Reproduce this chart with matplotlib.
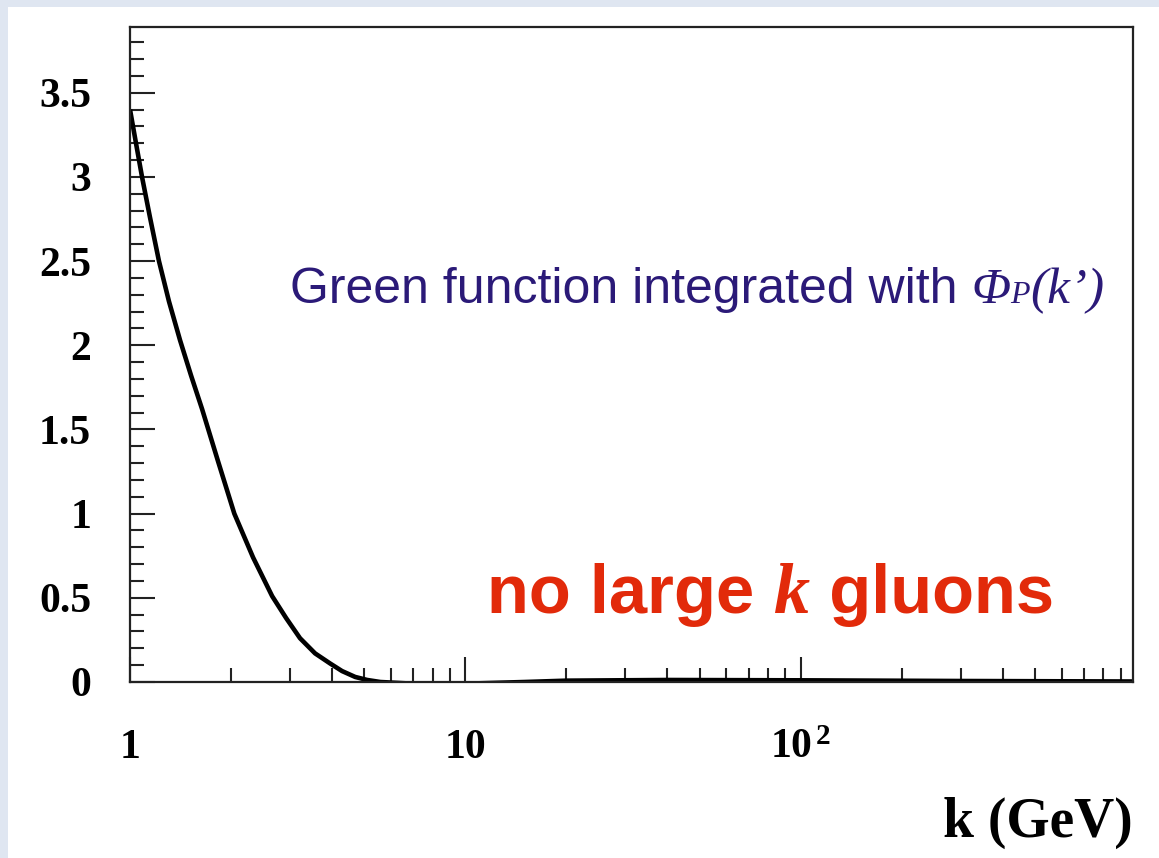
import numpy as np
import matplotlib
matplotlib.use('Agg')
from matplotlib import pyplot as plt
from matplotlib import ticker
from matplotlib.patches import Rectangle
from matplotlib.transforms import IdentityTransform


# Krzywa: k [GeV] i wartosc funkcji Greena
k_vals = [1.000, 1.042, 1.086, 1.147, 1.220, 1.307, 1.410, 1.521, 1.641, 1.831,
          2.047, 2.328, 2.654, 2.921, 3.214, 3.564, 3.952, 4.289, 4.694, 5.10,
          5.58, 7.0, 10.0, 15.0, 20.0, 40.0, 100.0, 300.0, 980.0]
g_vals = [3.40, 3.20, 3.00, 2.76, 2.50, 2.26, 2.03, 1.82, 1.62, 1.31,
          1.00, 0.74, 0.51, 0.38, 0.26, 0.17, 0.11, 0.065, 0.03, 0.012,
          0.0, -0.01, -0.01, 0.0, 0.008, 0.012, 0.010, 0.006, 0.003]

x_major = [1, 10, 100]
x_major_labels = ['1', '10', r'$\mathbf{10}^{\,\mathbf{2}}$']
x_minor = [2, 3, 4, 5, 6, 7, 8, 9,
           20, 30, 40, 50, 60, 70, 80, 90,
           200, 300, 400, 500, 600, 700, 800, 900]
y_major = [0, 0.5, 1, 1.5, 2, 2.5, 3, 3.5]
y_major_labels = ['0', '0.5', '1', '1.5', '2', '2.5', '3', '3.5']

kolor_nieb = '#2b1a78'
kolor_czerw = '#e22a0a'

plt.rcParams['mathtext.fontset'] = 'custom'
plt.rcParams['mathtext.rm'] = 'Liberation Serif'
plt.rcParams['mathtext.it'] = 'Liberation Serif:italic'
plt.rcParams['mathtext.bf'] = 'Liberation Serif:bold'

W, H = 1159, 858
fig = plt.figure( figsize=( W/100, H/100 ), dpi=100, facecolor='#dfe6f1' )

# Biale tlo pod wykresem
fig.patches.append( Rectangle( ( 8/W, 0 ), 1 - 8/W, 1 - 7/H,
                               transform=fig.transFigure,
                               facecolor='white', edgecolor='none', zorder=-5 ) )

ax = fig.add_axes( [ 130/W, 1 - 682/H, 1003/W, 655/H ] )
ax.set_facecolor( 'white' )

ax.semilogx( k_vals, g_vals, color='black', lw=3.3,
             solid_capstyle='butt', solid_joinstyle='round' )
ax.set_xlim( 1, 980 )
ax.set_ylim( 0, 3.89 )

ax.xaxis.set_major_locator( ticker.FixedLocator( x_major ) )
ax.xaxis.set_major_formatter( ticker.FixedFormatter( x_major_labels ) )
ax.xaxis.set_minor_locator( ticker.FixedLocator( x_minor ) )
ax.xaxis.set_minor_formatter( ticker.NullFormatter() )
ax.yaxis.set_major_locator( ticker.FixedLocator( y_major ) )
ax.yaxis.set_major_formatter( ticker.FixedFormatter( y_major_labels ) )
ax.yaxis.set_minor_locator( ticker.MultipleLocator( 0.1 ) )

for sp in ax.spines.values():
    sp.set_linewidth( 1.6 )
    sp.set_color( '#222222' )

ax.tick_params( which='both', direction='in', top=False, right=False,
                color='#222222', width=1.5 )
ax.tick_params( which='major', length=18 )
ax.tick_params( which='minor', length=10 )
ax.tick_params( axis='y', which='major', pad=28 )
ax.tick_params( axis='x', which='major', pad=34 )

for lab in ax.get_xticklabels() + ax.get_yticklabels():
    lab.set_fontfamily( 'Liberation Serif' )
    lab.set_fontweight( 'bold' )
    lab.set_fontsize( 30 )

ax.set_xlabel( 'k (GeV)', family='Liberation Serif', weight='bold',
               fontsize=40, loc='right' )
ax.xaxis.set_label_coords( 1.0, -0.175 )


def napis( x0, y0, kawalki, kolor ):
    # kawalki tekstu w roznych fontach, jeden za drugim na wspolnej linii bazowej
    renderer = fig.canvas.get_renderer()
    px, py = ax.transAxes.transform( ( x0, y0 ) )
    for tekst, opcje in kawalki:
        t = fig.text( px, py, tekst, color=kolor, va='baseline', ha='left',
                      transform=IdentityTransform(), **opcje )
        px += t.get_window_extent( renderer ).width


napis( 0.1595, 0.5786, [
    ( 'Green function integrated with ', dict( family='Liberation Sans', fontsize=36 ) ),
    ( '\u03a6', dict( family='Liberation Serif', style='italic', fontsize=37 ) ),
    ( 'P', dict( family='Liberation Serif', style='italic', fontsize=23 ) ),
    ( '(k\u2019)', dict( family='Liberation Serif', style='italic', fontsize=37 ) ),
], kolor_nieb )

napis( 0.356, 0.105, [
    ( 'no large ', dict( family='Liberation Sans', weight='bold', fontsize=49.5 ) ),
    ( 'k', dict( family='Liberation Serif', style='italic', weight='bold', fontsize=52 ) ),
    ( ' gluons', dict( family='Liberation Sans', weight='bold', fontsize=49.5 ) ),
], kolor_czerw )

fig.savefig( 'out.png', dpi=100, facecolor=fig.get_facecolor() )
